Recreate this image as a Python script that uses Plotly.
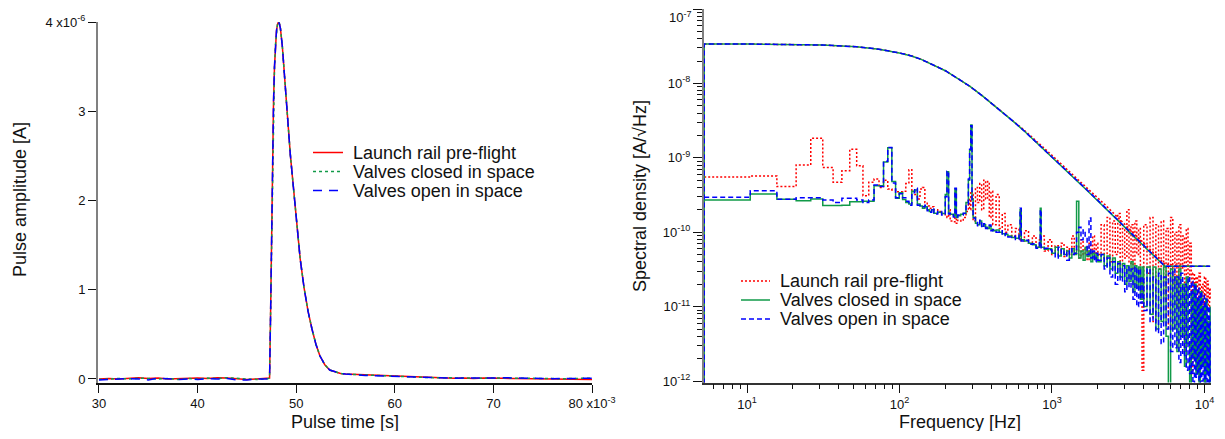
import plotly.graph_objects as go

# ---------------- Left panel: averaged pulse (time in ms, amplitude in uA) ----------------
T_PRE = [30, 31, 32, 33, 34, 35, 36, 37, 38, 39, 40, 41, 42, 43, 44, 45, 46, 47]
T_CORE = [47.3, 47.4, 47.5, 47.6, 47.7, 47.8, 47.9, 48.0, 48.1, 48.2, 48.3, 48.4, 48.6, 48.8,
          49.0, 49.2, 49.4, 49.7, 50.0, 50.4, 50.8, 51.2, 51.6, 52.0, 52.4, 52.9, 53.4, 54.0, 54.5]
A_CORE = [0.01, 0.7, 1.7, 2.55, 3.1, 3.5, 3.75, 3.9, 3.97, 4.0, 3.98, 3.93, 3.72, 3.42,
          3.1, 2.8, 2.52, 2.17, 1.8, 1.35, 1.02, 0.76, 0.56, 0.39, 0.26, 0.16, 0.1, 0.075, 0.062]
T_POST = [55, 56, 57, 58, 59, 60, 61, 62, 63, 64, 65, 66, 67, 68, 69, 70, 71, 72, 73, 74, 75,
          76, 77, 78, 79, 80]

launch_pre = [0.0, 0.005, 0.0, 0.01, 0.015, 0.005, 0.01, 0.0, 0.005, 0.01, 0.01, 0.005, 0.015,
              0.01, 0.0, -0.005, 0.0, 0.005]
closed_pre = [-0.005, 0.0, 0.005, 0.0, 0.01, 0.005, 0.0, 0.005, -0.005, 0.005, 0.0, 0.01, 0.005,
              0.015, 0.005, 0.0, -0.005, 0.0]
open_pre = [-0.01, -0.005, 0.0, 0.005, 0.0, -0.01, 0.01, 0.0, -0.005, 0.0, -0.005, 0.005, 0.0,
            0.005, -0.01, -0.01, 0.0, 0.0]

launch_post = [0.055, 0.05, 0.045, 0.04, 0.035, 0.03, 0.025, 0.02, 0.02, 0.015, 0.012, 0.008,
               0.01, 0.005, 0.01, 0.012, 0.008, 0.005, 0.003, 0.005, 0.0, 0.002, -0.003, -0.005,
               -0.002, -0.005]
closed_post = [0.055, 0.048, 0.045, 0.04, 0.036, 0.03, 0.027, 0.022, 0.018, 0.015, 0.012, 0.01,
               0.012, 0.01, 0.008, 0.012, 0.01, 0.008, 0.005, 0.008, 0.005, 0.006, 0.003, 0.005,
               0.008, 0.01]
open_post = [0.055, 0.045, 0.04, 0.037, 0.033, 0.03, 0.027, 0.022, 0.02, 0.016, 0.012, 0.008,
             0.012, 0.01, 0.006, 0.01, 0.014, 0.01, 0.006, 0.004, 0.006, 0.004, 0.006, 0.003,
             0.006, 0.008]

# ---------------- Right panel: spectral densities ----------------
# pulse spectrum (upper curve)
F_UP = [5.24, 5.24, 10.5, 21, 31.4, 52.4, 73.4, 99.6, 120, 140, 166, 200, 240, 290, 350, 456,
        550, 650, 750, 834, 1000, 1200, 1450, 1700, 2000, 2250, 2500, 2750, 3000, 3300, 3600,
        3900, 4200, 4500, 5000, 5500, 8000, 10900]
closed_up = [1e-13, 3.39e-8, 3.38e-8, 3.34e-8, 3.28e-8, 3.11e-8, 2.88e-8, 2.57e-8, 2.34e-8,
             2.09e-8, 1.79e-8, 1.48e-8, 1.17e-8, 9.1e-9, 6.8e-9, 4.4e-9, 3.16e-9, 2.34e-9,
             1.78e-9, 1.45e-9, 1.02e-9, 7.1e-10, 4.9e-10, 3.63e-10, 2.63e-10, 2.09e-10,
             1.66e-10, 1.38e-10, 1.17e-10, 9.5e-11, 8.1e-11, 6.9e-11, 5.9e-11, 5.1e-11, 4.2e-11,
             3.5e-11, 3.5e-11, 3.5e-11]
launch_up = [1e-13, 3.39e-8, 3.38e-8, 3.34e-8, 3.28e-8, 3.11e-8, 2.88e-8, 2.57e-8, 2.34e-8,
             2.09e-8, 1.79e-8, 1.48e-8, 1.17e-8, 9.1e-9, 6.8e-9, 4.4e-9, 3.2e-9, 2.4e-9,
             1.85e-9, 1.5e-9, 1.08e-9, 7.6e-10, 5.3e-10, 4.0e-10, 2.9e-10, 2.3e-10, 1.85e-10,
             1.5e-10, 1.28e-10, 1.05e-10, 8.9e-11, 7.6e-11, 6.5e-11, 5.6e-11, 4.6e-11, 3.7e-11,
             3.5e-11, 3.5e-11]
open_up = [1e-13, 3.39e-8, 3.38e-8, 3.34e-8, 3.28e-8, 3.11e-8, 2.88e-8, 2.57e-8, 2.34e-8,
           2.09e-8, 1.79e-8, 1.48e-8, 1.17e-8, 9.1e-9, 6.8e-9, 4.4e-9, 3.16e-9, 2.35e-9,
           1.79e-9, 1.46e-9, 1.03e-9, 7.2e-10, 5.0e-10, 3.7e-10, 2.68e-10, 2.12e-10, 1.7e-10,
           1.4e-10, 1.19e-10, 9.7e-11, 8.3e-11, 7.0e-11, 6.0e-11, 5.2e-11, 4.3e-11, 3.5e-11,
           3.5e-11, 3.5e-11]

# noise spectrum (lower curve), FFT bins below ~1 kHz
F_LOW = [5.24, 10.5, 15.7, 21.0, 26.2, 31.4, 36.7, 41.9, 47.2, 52.4, 57.6, 62.9, 68.1, 73.4,
         78.6, 83.8, 89.1, 94.3, 99.6,
         104.8, 110, 115.3, 120.5, 125.8, 131, 136.3, 141.5, 146.7, 152, 157, 162.5, 168, 178,
         189, 199.6, 204.8, 210, 215, 225.6, 231, 236, 241, 252, 262, 273, 283, 288.5, 293.7,
         299, 304, 315, 325, 336, 346, 357, 367, 378, 388, 398, 409, 430, 451, 472, 493, 514,
         545, 576, 608, 618, 629, 660, 702, 744, 786, 828, 838, 849, 891, 943, 996]
launch_low = [5.5e-10, 5.7e-10, 4.1e-10, 8.0e-10, 1.83e-9, 7.4e-10, 4.7e-10, 6.7e-10, 1.3e-9,
              7.8e-10, 3.1e-10, 4.7e-10, 5.2e-10, 4.0e-10, 5.0e-10, 3.8e-10, 3.7e-10, 3.5e-10,
              3.5e-10,
              3.55e-10, 4.5e-10, 6.9e-10, 3.55e-10, 3.2e-10, 2.8e-10, 3.8e-10, 4.0e-10, 2.5e-10,
              2.25e-10, 2.1e-10, 2.2e-10, 2.0e-10, 1.9e-10, 1.78e-10, 1.66e-10, 1.58e-10, 2.0e-10,
              1.41e-10, 1.38e-10, 1.58e-10, 1.32e-10, 1.45e-10, 1.41e-10, 1.58e-10, 1.9e-10,
              2.8e-10, 2.0e-10, 3.55e-10, 3.2e-10, 1.41e-10, 4.0e-10, 2.5e-10, 4.5e-10, 2.0e-10,
              5.0e-10, 2.8e-10, 4.8e-10, 1.58e-10, 3.55e-10, 1.26e-10, 3.2e-10, 1.12e-10,
              1.78e-10, 1.0e-10, 1.26e-10, 8.9e-11, 1.12e-10, 7.9e-11, 1.0e-10, 7.6e-11, 1.05e-10,
              7.1e-11, 8.9e-11, 6.3e-11, 7.9e-11, 6.6e-11, 8.9e-11, 5.6e-11, 7.9e-11, 5.0e-11]
closed_low = [2.7e-10, 3.25e-10, 2.77e-10, 2.65e-10, 2.8e-10, 2.28e-10, 2.28e-10, 2.3e-10,
              2.57e-10, 2.57e-10, 2.6e-10, 2.6e-10, 4.2e-10, 4.2e-10, 8.8e-10, 1.36e-9, 4.8e-10,
              2.85e-10, 3.4e-10,
              2.75e-10, 2.5e-10, 2.4e-10, 3.55e-10, 3.7e-10, 2.4e-10, 2.25e-10, 2.1e-10, 2.2e-10,
              2.0e-10, 1.9e-10, 2.0e-10, 1.8e-10, 1.85e-10, 1.78e-10, 3.2e-10, 6.5e-10, 1.8e-10,
              1.74e-10, 1.66e-10, 3.8e-10, 1.58e-10, 1.66e-10, 1.74e-10, 1.78e-10, 2.5e-10,
              5.0e-10, 1.26e-9, 2.75e-9, 2.8e-10, 1.58e-10, 1.32e-10, 1.26e-10, 1.41e-10,
              1.2e-10, 1.26e-10, 1.17e-10, 1.12e-10, 1.2e-10, 1.1e-10, 1.05e-10, 1.07e-10,
              1.0e-10, 9.5e-11, 9.3e-11, 8.9e-11, 8.5e-11, 8.3e-11, 8.9e-11, 2.0e-10, 7.9e-11,
              7.6e-11, 7.1e-11, 6.8e-11, 6.3e-11, 7.1e-11, 2.1e-10, 6.3e-11, 5.9e-11, 6.0e-11,
              5.5e-11]
open_low = [2.95e-10, 3.6e-10, 2.77e-10, 2.9e-10, 2.9e-10, 2.7e-10, 2.5e-10, 2.85e-10, 2.85e-10,
            2.7e-10, 2.5e-10, 2.7e-10, 4.3e-10, 4.1e-10, 9.0e-10, 1.38e-9, 4.6e-10, 2.9e-10,
            3.3e-10,
            2.9e-10, 2.6e-10, 2.3e-10, 3.4e-10, 3.9e-10, 2.3e-10, 2.2e-10, 2.2e-10, 2.3e-10,
            1.95e-10, 1.85e-10, 2.1e-10, 1.75e-10, 1.9e-10, 1.7e-10, 3.0e-10, 6.6e-10, 1.75e-10,
            1.8e-10, 1.6e-10, 3.9e-10, 1.6e-10, 1.7e-10, 1.7e-10, 1.8e-10, 2.4e-10, 5.2e-10,
            1.3e-9, 2.7e-9, 2.7e-10, 1.55e-10, 1.35e-10, 1.22e-10, 1.45e-10, 1.15e-10, 1.3e-10,
            1.12e-10, 1.15e-10, 1.25e-10, 1.05e-10, 1.08e-10, 1.0e-10, 1.05e-10, 9.0e-11,
            9.6e-11, 8.6e-11, 8.8e-11, 8.0e-11, 9.2e-11, 2.1e-10, 7.6e-11, 7.8e-11, 6.9e-11,
            7.0e-11, 6.1e-11, 7.3e-11, 2.0e-10, 6.0e-11, 6.1e-11, 5.8e-11, 5.6e-11]

# noise spectrum (lower curve) above 1 kHz, sampled bins
F_HIGH = [1000, 1050, 1100, 1150, 1200, 1250, 1300, 1350, 1400, 1450, 1500, 1550, 1600, 1650,
          1700, 1750, 1800, 1850, 1900, 1950, 2000,
          2100, 2200, 2300, 2400, 2500, 2600, 2700, 2800, 2900, 3000, 3100, 3200, 3300, 3400,
          3500, 3600, 3700, 3800, 3900, 4000,
          4200, 4400, 4600, 4800, 5000, 5200, 5400, 5600, 5800, 6000, 6200, 6400, 6600, 6800,
          7000, 7200, 7400, 7600, 7800, 8000, 8200, 8400, 8600, 8800, 9000, 9200, 9400, 9600,
          9800, 10000, 10200, 10400, 10600, 10800, 10900]
launch_high = [5.6e-11, 6.6e-11, 5.0e-11, 7.1e-11, 4.7e-11, 6.3e-11, 5.0e-11, 8.9e-11, 5.2e-11,
               6.6e-11, 4.5e-11, 7.9e-11, 5.0e-11, 6.3e-11, 4.2e-11, 7.1e-11, 5.0e-11, 8.9e-11,
               4.5e-11, 7.1e-11, 5.0e-11,
               1.26e-10, 4.5e-11, 1.58e-10, 4.0e-11, 1.41e-10, 5.0e-11, 1.78e-10, 3.55e-11,
               1.12e-10, 4.5e-11, 2.0e-10, 3.8e-11, 1.26e-10, 3.2e-11, 1.41e-10, 5.0e-11,
               1.12e-10, 2.5e-11, 1.4e-12, 1.26e-10,
               2.8e-11, 1.58e-10, 6.3e-12, 1.26e-10, 3.2e-11, 1.41e-10, 1.26e-11, 1.12e-10,
               5.0e-12, 1.58e-10, 2.0e-11, 1.0e-10, 1.0e-11, 1.26e-10, 3.2e-11, 8.9e-11, 2.5e-12,
               1.12e-10, 2.5e-11, 7.1e-11, 1.26e-12, 2.8e-11, 1.58e-11, 2.5e-11, 1.0e-11, 2.8e-11,
               1.26e-11, 2.0e-11, 8.9e-12, 2.5e-11, 1.12e-11, 2.2e-11, 1.0e-11, 1.78e-11, 1.26e-11]
closed_high = [5.2e-11, 6.3e-11, 4.8e-11, 6.0e-11, 5.0e-11, 5.6e-11, 4.5e-11, 6.0e-11, 5.0e-11,
               2.6e-10, 4.5e-11, 5.6e-11, 4.2e-11, 6.3e-11, 4.7e-11, 5.6e-11, 4.0e-11, 5.2e-11,
               4.4e-11, 5.0e-11, 4.0e-11,
               5.0e-11, 3.55e-11, 4.8e-11, 3.2e-11, 4.5e-11, 2.8e-11, 4.0e-11, 2.5e-11, 3.8e-11,
               2.0e-11, 3.55e-11, 2.2e-11, 4.0e-11, 1.58e-11, 3.55e-11, 1.78e-11, 3.4e-11,
               1.26e-11, 3.4e-11, 1.0e-11,
               3.4e-11, 7.9e-12, 3.4e-11, 5.0e-12, 3.2e-11, 6.3e-12, 3.4e-11, 4.0e-12, 8e-13,
               3.2e-11, 5.0e-12, 2.5e-11, 2.5e-12, 3.2e-11, 4.0e-12, 2.0e-11, 1.58e-12, 2.5e-11,
               3.2e-12, 8e-13, 1.58e-11, 2.0e-12, 2.0e-11, 1.26e-12, 1.26e-11, 8e-13, 1.58e-11,
               1.58e-12, 1.0e-11, 8e-13, 1.26e-11, 1.26e-12, 6.3e-12, 8e-13, 1.0e-11]
open_high = [5.4e-11, 4.5e-11, 6.3e-11, 5.0e-11, 5.6e-11, 4.2e-11, 6.0e-11, 5.0e-11, 5.2e-11,
             1.0e-10, 1.17e-10, 7.9e-11, 1.07e-10, 8.9e-11, 5.0e-11, 1.55e-10, 4.5e-11, 5.6e-11,
             4.0e-11, 5.2e-11, 4.2e-11,
             5.0e-11, 3.2e-11, 4.5e-11, 2.5e-11, 4.0e-11, 2.0e-11, 3.8e-11, 2.2e-11, 3.55e-11,
             1.58e-11, 3.4e-11, 1.78e-11, 3.2e-11, 1.26e-11, 3.4e-11, 1.0e-11, 3.2e-11, 1.12e-11,
             2.5e-11, 8.9e-12,
             3.2e-11, 6.3e-12, 2.5e-11, 4.5e-12, 2.8e-11, 3.2e-12, 2.5e-11, 5.0e-12, 2.8e-11,
             2.5e-12, 3.2e-11, 2.8e-12, 2.5e-11, 1.78e-12, 2.8e-11, 2.2e-12, 2.0e-11, 1.4e-12,
             2.5e-11, 1.26e-12, 2.2e-11, 9e-13, 2.0e-11, 1.12e-12, 1.78e-11, 8e-13, 1.58e-11,
             1.0e-12, 1.41e-11, 8e-13, 1.26e-11, 9e-13, 1.0e-11, 8e-13, 6.3e-12]

SERIES = ["Launch rail pre-flight", "Valves closed in space", "Valves open in space"]
COLORS = ["#ff0000", "#119a48", "#0000ff"]
LEFT_DASH = ["solid", "3px,3px", "9px,7px"]
RIGHT_DASH = ["2px,2px", "solid", "5px,3px"]

FONT = "Liberation Sans, Arial, Helvetica, sans-serif"

# The page body keeps its default 8px margin, so the figure is 16px smaller than the window
# and every reference pixel position is mapped with that 8px offset.
W, H = 1209, 423
OFF = 8


def px(x):
    return (x - OFF) / W


def py(y):
    return 1 - (y - OFF) / H


fig = go.Figure()

# ---- left traces ----
pre_sets = [launch_pre, closed_pre, open_pre]
post_sets = [launch_post, closed_post, open_post]
for name, col, dash, pre, post in zip(SERIES, COLORS, LEFT_DASH, pre_sets, post_sets):
    fig.add_trace(go.Scatter(
        x=T_PRE + T_CORE + T_POST, y=pre + A_CORE + post, mode="lines", name=name,
        showlegend=False, line=dict(color=col, width=1.5, dash=dash), xaxis="x", yaxis="y"))

# ---- right traces ----
up_sets = [launch_up, closed_up, open_up]
low_sets = [launch_low, closed_low, open_low]
high_sets = [launch_high, closed_high, open_high]
for name, col, dash, up, lo, hi in zip(SERIES, COLORS, RIGHT_DASH, up_sets, low_sets, high_sets):
    fig.add_trace(go.Scatter(
        x=F_UP, y=up, mode="lines", name=name, showlegend=False,
        line=dict(color=col, width=1.5, dash=dash), xaxis="x2", yaxis="y2"))
    fig.add_trace(go.Scatter(
        x=F_LOW + F_HIGH, y=lo + hi, mode="lines", name=name, showlegend=False,
        line=dict(color=col, width=1.5, shape="hv", dash=dash), xaxis="x2", yaxis="y2"))

tick_font = dict(family=FONT, size=13, color="#111")
title_font = dict(family=FONT, size=18, color="#111")
legend_font = dict(family=FONT, size=18, color="#111")

x_minor = [6, 7, 8, 9] + [k * 10 for k in range(2, 10)] + [k * 100 for k in range(2, 10)] + \
          [k * 1000 for k in range(2, 10)]
y_minor = [k * d for d in [1e-12, 1e-11, 1e-10, 1e-9, 1e-8] for k in range(2, 10)]

# legend keys and labels (legend placement in reference pixels)
LEFT_LEG = dict(x0=313, x1=343, xt=351, rows=[152.5, 171.5, 190.5])
RIGHT_LEG = dict(x0=741, x1=770, xt=778, rows=[281, 300, 319])

shapes = []
annotations = []
for leg, dashes in [(LEFT_LEG, LEFT_DASH), (RIGHT_LEG, RIGHT_DASH)]:
    for name, col, dash, yrow in zip(SERIES, COLORS, dashes, leg["rows"]):
        shapes.append(dict(type="line", xref="paper", yref="paper",
                           x0=px(leg["x0"]), x1=px(leg["x1"]), y0=py(yrow), y1=py(yrow),
                           line=dict(color=col, width=1.5, dash=dash)))
        annotations.append(dict(text=name, x=px(leg["xt"]), y=py(yrow), xref="paper",
                                yref="paper", showarrow=False, xanchor="left",
                                yanchor="middle", font=legend_font))

annotations += [
    dict(text="Pulse amplitude [A]", x=px(20), y=py(200), xref="paper", yref="paper",
         textangle=-90, showarrow=False, xanchor="center", yanchor="middle", font=title_font),
    dict(text="Pulse time [s]", x=px(345), y=py(422), xref="paper", yref="paper",
         showarrow=False, xanchor="center", yanchor="middle", font=title_font),
    dict(text="Spectral density [A/√Hz]", x=px(640), y=py(196), xref="paper", yref="paper",
         textangle=-90, showarrow=False, xanchor="center", yanchor="middle", font=title_font),
    dict(text="Frequency [Hz]", x=px(960), y=py(422), xref="paper", yref="paper",
         showarrow=False, xanchor="center", yanchor="middle", font=title_font),
    # top decade label of the right y axis sits at the very top edge of the figure, so it is
    # drawn just inside the figure instead of as a tick label (which would be clipped)
    dict(text="10<sup>-7</sup>", x=px(693), y=1.0, xref="paper", yref="paper",
         showarrow=False, xanchor="right", yanchor="top", borderpad=0, font=tick_font),
]

common_axis = dict(ticks="outside", tickwidth=1, tickcolor="#111", showgrid=False,
                   zeroline=False, tickfont=tick_font, automargin=False, showline=True)

fig.update_layout(
    width=W, height=H, autosize=False, showlegend=False,
    margin=dict(l=0, r=0, t=0, b=0, pad=0),
    paper_bgcolor="white", plot_bgcolor="white",
    font=dict(family=FONT, size=13, color="#111"),
    xaxis=dict(domain=[px(98), px(592)], range=[29.9, 80], anchor="y",
               tickvals=[30, 40, 50, 60, 70, 80],
               ticktext=["30", "40", "50", "60", "70", "80 x10<sup>-3</sup>"],
               ticklen=8, linecolor="#111", linewidth=1.5, **common_axis),
    yaxis=dict(domain=[py(383), py(22)], range=[-0.045, 4.0], anchor="x",
               tickvals=[0, 1, 2, 3, 4],
               ticktext=["0", "1", "2", "3", "4 x10<sup>-6</sup>"],
               ticklen=8, linecolor="#808080", linewidth=2, **common_axis),
    xaxis2=dict(domain=[px(704), px(1211)], type="log", range=[0.718, 4.043], anchor="y2",
                tickvals=[10, 100, 1000, 10000],
                ticktext=["10<sup>1</sup>", "10<sup>2</sup>", "10<sup>3</sup>", "10<sup>4</sup>"],
                ticklen=9, linecolor="#333", linewidth=1.5,
                minor=dict(tickvals=x_minor, ticks="outside", ticklen=5, tickwidth=1,
                           tickcolor="#111", showgrid=False),
                **common_axis),
    yaxis2=dict(domain=[py(382.5), py(9)], type="log", range=[-12.02, -7], anchor="x2",
                tickvals=[1e-12, 1e-11, 1e-10, 1e-9, 1e-8, 1e-7],
                ticktext=["10<sup>-12</sup>", "10<sup>-11</sup>", "10<sup>-10</sup>",
                          "10<sup>-9</sup>", "10<sup>-8</sup>", ""],
                ticklen=9, linecolor="#808080", linewidth=2,
                minor=dict(tickvals=y_minor, ticks="outside", ticklen=5, tickwidth=1,
                           tickcolor="#111", showgrid=False),
                **common_axis),
    shapes=shapes,
    annotations=annotations,
)

fig.write_html("out.html", config={"displayModeBar": False})
